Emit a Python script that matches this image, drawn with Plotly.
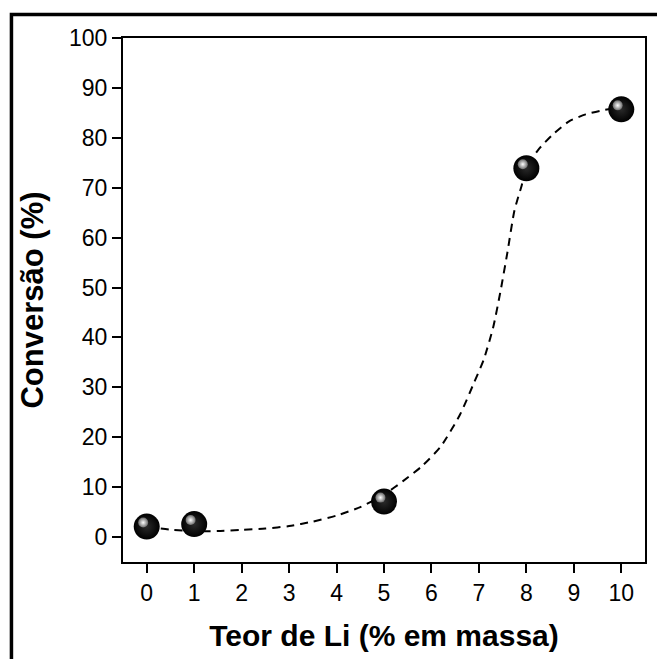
import plotly.graph_objects as go

# Measured conversion vs. lithium loading
teor_li = [0, 1, 5, 8, 10]
conversao = [2.1, 2.6, 7.1, 73.9, 85.7]

# Fitted trend curve (sampled along the fit)
fit_x = [0, 0.5, 1.0, 1.5, 2.0, 2.5, 3.0, 3.5, 4.0, 4.5, 5.0, 5.4, 5.8, 6.2, 6.6,
         6.9, 7.1, 7.3, 7.45, 7.6, 7.75, 7.9, 8.0, 8.25, 8.55, 8.9, 9.25, 9.65, 10.0]
fit_y = [2.1, 1.5, 1.2, 1.2, 1.45, 1.7, 2.2, 3.1, 4.3, 6.0, 8.5, 11.2, 14.2, 18.2, 24.5,
         31.0, 35.5, 42.0, 49.0, 57.0, 65.5, 70.4, 74.0, 77.6, 80.6, 83.3, 84.7, 85.6, 86.0]

x_ticks = list(range(0, 11))
y_ticks = list(range(0, 101, 10))

FONT = "Liberation Sans, Arial, sans-serif"

fig = go.Figure()

fig.add_trace(go.Scatter(
    x=fit_x, y=fit_y, mode="lines",
    line=dict(color="black", width=2, dash="8px,6px", shape="spline", smoothing=0.6),
    hoverinfo="skip", showlegend=False,
))

# Spheres: dark body plus a small specular highlight up and to the left
fig.add_trace(go.Scatter(
    x=teor_li, y=conversao, mode="markers",
    marker=dict(size=26, color="black",
                gradient=dict(type="radial", color="#2a2a2a"),
                line=dict(width=0)),
    showlegend=False,
))
hl_dx, hl_dy = -0.075, 0.8
fig.add_trace(go.Scatter(
    x=[v + hl_dx for v in teor_li], y=[v + hl_dy for v in conversao], mode="markers",
    marker=dict(size=10, color="#6a6a6a",
                gradient=dict(type="radial", color="#ffffff"),
                line=dict(width=0)),
    hoverinfo="skip", showlegend=False,
))

axis_common = dict(
    showgrid=False, zeroline=False,
    showline=True, linecolor="black", linewidth=2, mirror=True,
    ticks="outside", ticklen=9, tickwidth=2, tickcolor="black",
    tickfont=dict(family=FONT, size=23, color="black"),
)

fig.update_xaxes(
    range=[-0.5, 10.5], tickvals=x_ticks, ticktext=[str(t) for t in x_ticks],
    title=dict(text="<b>Teor de Li (% em massa)</b>",
               font=dict(family=FONT, size=30, color="black"), standoff=20),
    **axis_common,
)
fig.update_yaxes(
    range=[-5, 100], tickvals=y_ticks, ticktext=[str(t) for t in y_ticks],
    title=dict(text="<b>Conversão (%)</b>",
               font=dict(family=FONT, size=31, color="black"), standoff=16),
    **axis_common,
)

# Heavy outer frame around the figure
fig.add_shape(type="rect", xref="paper", yref="paper",
              x0=-0.2137, x1=1.06, y0=-0.25, y1=1.0448,
              line=dict(color="black", width=3.5), layer="above")

fig.update_layout(
    width=657, height=659,
    margin=dict(l=123, r=10, t=38, b=97),
    paper_bgcolor="white", plot_bgcolor="white",
)

fig.write_html("out.html")
